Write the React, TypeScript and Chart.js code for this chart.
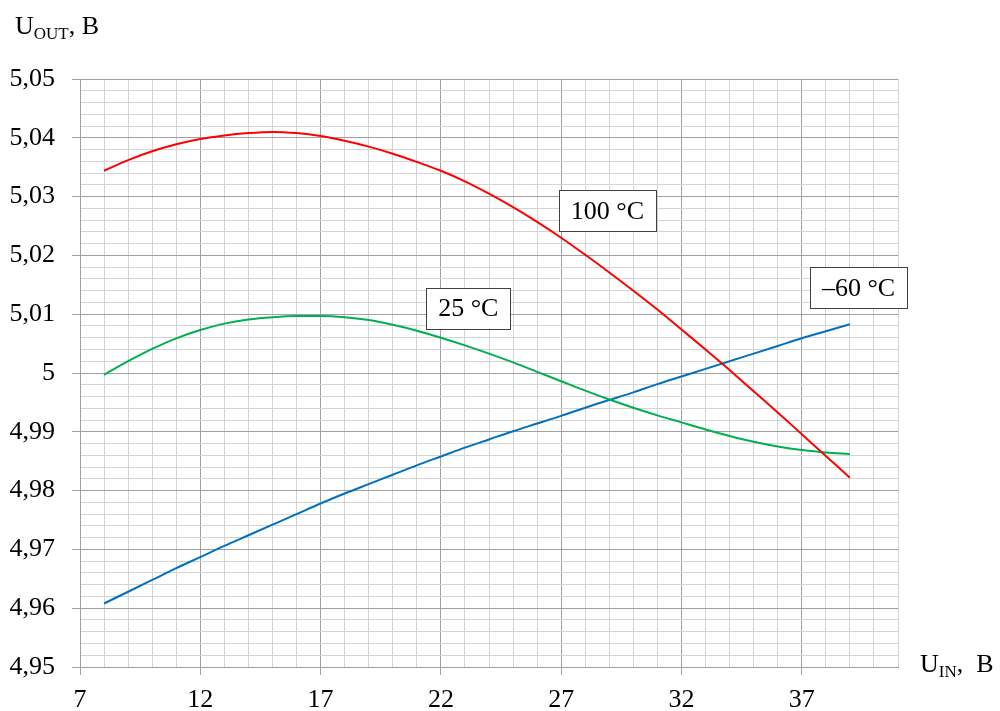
import React, { useEffect, useRef } from "react";
import { Chart, registerables } from "chart.js";

Chart.register(...registerables);

const uIn = [8, 9, 10, 11, 12, 13, 14, 15, 16, 17, 18, 19, 20, 21, 22, 23, 24, 25, 26, 27, 28, 29, 30, 31, 32, 33, 34, 35, 36, 37, 38, 39];
const t100 = [5.0344, 5.0362, 5.0377, 5.0389, 5.0398, 5.0404, 5.0408, 5.041, 5.0408, 5.0403, 5.0395, 5.0385, 5.0373, 5.0359, 5.0344, 5.0326, 5.0305, 5.0282, 5.0257, 5.023, 5.0201, 5.0171, 5.014, 5.0108, 5.0074, 5.004, 5.0005, 4.9969, 4.9933, 4.9896, 4.9859, 4.9822];
const t25 = [4.9997, 5.002, 5.0041, 5.0059, 5.0073, 5.0084, 5.0091, 5.0095, 5.0097, 5.0097, 5.0095, 5.009, 5.0082, 5.0072, 5.006, 5.0047, 5.0033, 5.0018, 5.0002, 4.9986, 4.997, 4.9955, 4.9941, 4.9928, 4.9916, 4.9904, 4.9893, 4.9883, 4.9875, 4.9869, 4.9865, 4.9862];
const tMinus60 = [4.9608, 4.9628, 4.9648, 4.9668, 4.9687, 4.9706, 4.9724, 4.9742, 4.976, 4.9778, 4.9795, 4.9811, 4.9827, 4.9843, 4.9858, 4.9873, 4.9887, 4.9901, 4.9914, 4.9927, 4.9941, 4.9954, 4.9967, 4.9981, 4.9994, 5.0007, 5.002, 5.0033, 5.0046, 5.0059, 5.0071, 5.0083];

const xMin = 7;
const xMax = 41;
const xMajorStep = 5;
const yMin = 4.95;
const yMax = 5.05;
const yMinorStep = 0.002;
const yMinorCount = 50;

const seriesLabels = ["100 °C", "25 °C", "–60 °C"];
const seriesColors = ["#ff0000", "#00b050", "#0070c0"];
// label box centers in data coordinates
const labelX = [28.92, 23.14, 39.36];
const labelY = [5.0276, 5.011, 5.0145];

const FONT = '"Liberation Serif", "Times New Roman", serif';
const MAJOR = "#a0a0a0";
const MINOR = "#d4d4d4";

const fmtY = (v: number) => {
  const r = Math.round(v * 100) / 100;
  return String(r).replace(".", ",");
};

const overlayPlugin = {
  id: "overlay",
  afterDatasetsDraw(chart: any) {
    const ctx = chart.ctx;
    const xs = chart.scales.x;
    const ys = chart.scales.y;
    ctx.save();
    ctx.font = `26px ${FONT}`;
    ctx.textAlign = "center";
    ctx.textBaseline = "middle";
    for (let i = 0; i < seriesLabels.length; i++) {
      const cx = xs.getPixelForValue(labelX[i]);
      const cy = ys.getPixelForValue(labelY[i]);
      const w = ctx.measureText(seriesLabels[i]).width + 24;
      const h = 41;
      ctx.fillStyle = "#ffffff";
      ctx.fillRect(Math.round(cx - w / 2) + 0.5, Math.round(cy - h / 2) + 0.5, Math.round(w), h);
      ctx.strokeStyle = "#404040";
      ctx.lineWidth = 1;
      ctx.strokeRect(Math.round(cx - w / 2) + 0.5, Math.round(cy - h / 2) + 0.5, Math.round(w), h);
      ctx.fillStyle = "#000000";
      ctx.fillText(seriesLabels[i], cx, cy + 1);
    }
    // axis titles
    ctx.textAlign = "left";
    ctx.textBaseline = "alphabetic";
    const drawSub = (x: number, y: number, main: string, sub: string, tail: string) => {
      ctx.font = `26px ${FONT}`;
      ctx.fillText(main, x, y);
      let px = x + ctx.measureText(main).width;
      ctx.font = `17px ${FONT}`;
      ctx.fillText(sub, px, y + 5);
      px += ctx.measureText(sub).width;
      ctx.font = `26px ${FONT}`;
      ctx.fillText(tail, px, y);
    };
    drawSub(15, 34, "U", "OUT", ", B");
    drawSub(920, 672, "U", "IN", ",  B");
    ctx.restore();
  },
};

export default function App() {
  const ref = useRef<HTMLCanvasElement | null>(null);
  useEffect(() => {
    if (!ref.current) return;
    const chart = new Chart(ref.current, {
      type: "line",
      data: {
        datasets: [t100, t25, tMinus60].map((arr, i) => ({
          label: seriesLabels[i],
          data: uIn.map((x, j) => ({ x, y: arr[j] })),
          borderColor: seriesColors[i],
          borderWidth: 2,
          pointRadius: 0,
          cubicInterpolationMode: "monotone" as const,
          fill: false,
        })),
      },
      plugins: [overlayPlugin],
      options: {
        animation: false,
        responsive: false,
        maintainAspectRatio: false,
        layout: { padding: { left: 0, top: 79, right: 102, bottom: 0 } },
        plugins: { legend: { display: false }, tooltip: { enabled: false } },
        scales: {
          x: {
            type: "linear",
            min: xMin,
            max: xMax,
            afterBuildTicks: (s: any) => {
              const t = [];
              for (let v = xMin; v <= xMax; v++) t.push({ value: v });
              s.ticks = t;
            },
            afterFit: (s: any) => {
              s.height = 44;
            },
            border: { display: true, color: MAJOR, width: 1 },
            grid: {
              color: (c: any) => ((c.tick && (c.tick.value - xMin) % xMajorStep === 0) ? MAJOR : MINOR),
              tickColor: (c: any) => ((c.tick && (c.tick.value - xMin) % xMajorStep === 0) ? MAJOR : "rgba(0,0,0,0)"),
              tickLength: 8,
              lineWidth: 1,
            },
            ticks: {
              autoSkip: false,
              maxRotation: 0,
              padding: 10,
              color: "#000",
              font: { family: FONT, size: 26 },
              callback: (v: any) => ((v - xMin) % xMajorStep === 0 ? String(v) : ""),
            },
          },
          y: {
            type: "linear",
            min: yMin,
            max: yMax,
            afterBuildTicks: (s: any) => {
              const t = [];
              for (let i = 0; i <= yMinorCount; i++) t.push({ value: yMin + i * yMinorStep });
              s.ticks = t;
            },
            afterFit: (s: any) => {
              s.width = 80;
            },
            border: { display: true, color: MAJOR, width: 1 },
            grid: {
              color: (c: any) => (c.index % 5 === 0 ? MAJOR : MINOR),
              tickColor: (c: any) => (c.index % 5 === 0 ? MAJOR : "rgba(0,0,0,0)"),
              tickLength: 8,
              lineWidth: 1,
            },
            ticks: {
              autoSkip: false,
              padding: 17,
              color: "#000",
              font: { family: FONT, size: 26 },
              callback: (v: any, i: number) => (i % 5 === 0 ? fmtY(v) : ""),
            },
          },
        },
      },
    });
    return () => chart.destroy();
  }, []);
  return (
    <div style={{ position: "fixed", left: 0, top: 0, width: 1000, height: 711, background: "#fff" }}>
      <canvas ref={ref} width={1000} height={711} style={{ width: 1000, height: 711, display: "block" }} />
    </div>
  );
}
